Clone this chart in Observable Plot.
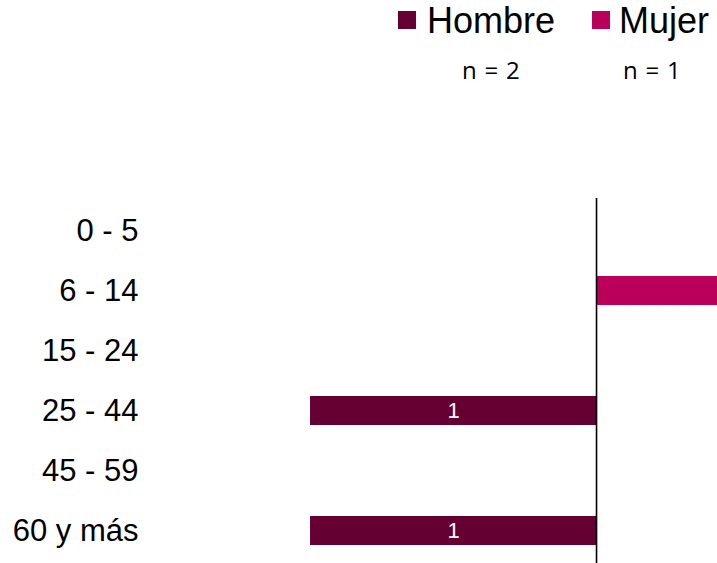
<!DOCTYPE html>
<html>
<head>
<meta charset="utf-8">
<script src="https://cdn.jsdelivr.net/npm/d3@7"></script>
<script src="https://cdn.jsdelivr.net/npm/@observablehq/plot@0.6"></script>
<style>
  html, body { margin: 0; padding: 0; background: #fff; overflow: hidden; }
  #legend { position: relative; width: 717px; height: 100px; font-family: "Liberation Sans", Arial, sans-serif; }
  #legend .sw { position: absolute; width: 18px; height: 18px; }
  #legend .lab { position: absolute; font-size: 36px; line-height: 36px; color: #000; white-space: nowrap; }
  #legend .n { position: absolute; font-family: "Open Sans", sans-serif; font-size: 24px; line-height: 24px; letter-spacing: 0.8px; color: #000; white-space: nowrap; }
</style>
</head>
<body>
<div id="legend"></div>
<div id="chart"></div>
<script>
const ageGroups = ["0 - 5", "6 - 14", "15 - 24", "25 - 44", "45 - 59", "60 y más"];
const hombre = [0, 0, 0, 1, 0, 1];
const mujer = [0, 1, 0, 0, 0, 0];
const seriesNames = ["Hombre", "Mujer"];
const seriesN = ["n = 2", "n = 1"];
const colors = ["#660033", "#BA0058"];

// legend
const legend = document.getElementById("legend");
const legendPos = [{sw: 398, lab: 427, n: 462}, {sw: 592, lab: 619, n: 623}];
seriesNames.forEach((name, i) => {
  const sw = document.createElement("div");
  sw.className = "sw";
  sw.style.left = legendPos[i].sw + "px";
  sw.style.top = "11px";
  sw.style.background = colors[i];
  legend.appendChild(sw);
  const lab = document.createElement("div");
  lab.className = "lab";
  lab.style.left = legendPos[i].lab + "px";
  lab.style.top = "3px";
  lab.textContent = name;
  legend.appendChild(lab);
  const n = document.createElement("div");
  n.className = "n";
  n.style.left = legendPos[i].n + "px";
  n.style.top = "58px";
  n.textContent = seriesN[i];
  legend.appendChild(n);
});

const data = [];
ageGroups.forEach((g, i) => {
  data.push({group: g, sex: "Hombre", value: hombre[i], signed: -hombre[i]});
  data.push({group: g, sex: "Mujer", value: mujer[i], signed: mujer[i]});
});
const nonzero = data.filter(d => d.value > 0);
const hombreLabels = nonzero.filter(d => d.sex === "Hombre");

const chart = Plot.plot({
  width: 717,
  height: 463,
  marginTop: 98,
  marginBottom: 0,
  marginLeft: 145,
  marginRight: 0,
  style: {fontFamily: "'Liberation Sans', Arial, sans-serif", fontSize: "31px", color: "#000", background: "#fff"},
  x: {domain: [-1.577, 0.423], axis: null},
  y: {domain: ageGroups, paddingInner: 0.52, paddingOuter: 0.26, tickSize: 0, tickPadding: 7, label: null},
  color: {domain: seriesNames, range: colors},
  marks: [
    Plot.barX(nonzero, {y: "group", x1: 0, x2: "signed", fill: "sex", clip: true}),
    Plot.text(hombreLabels, {y: "group", x: d => d.signed / 2, text: d => String(d.value), fill: "white", fontSize: 22, fontFamily: "'Liberation Sans', Arial, sans-serif"}),
    Plot.ruleX([0], {stroke: "#000", strokeWidth: 1.6})
  ]
});
document.getElementById("chart").appendChild(chart);
</script>
</body>
</html>
